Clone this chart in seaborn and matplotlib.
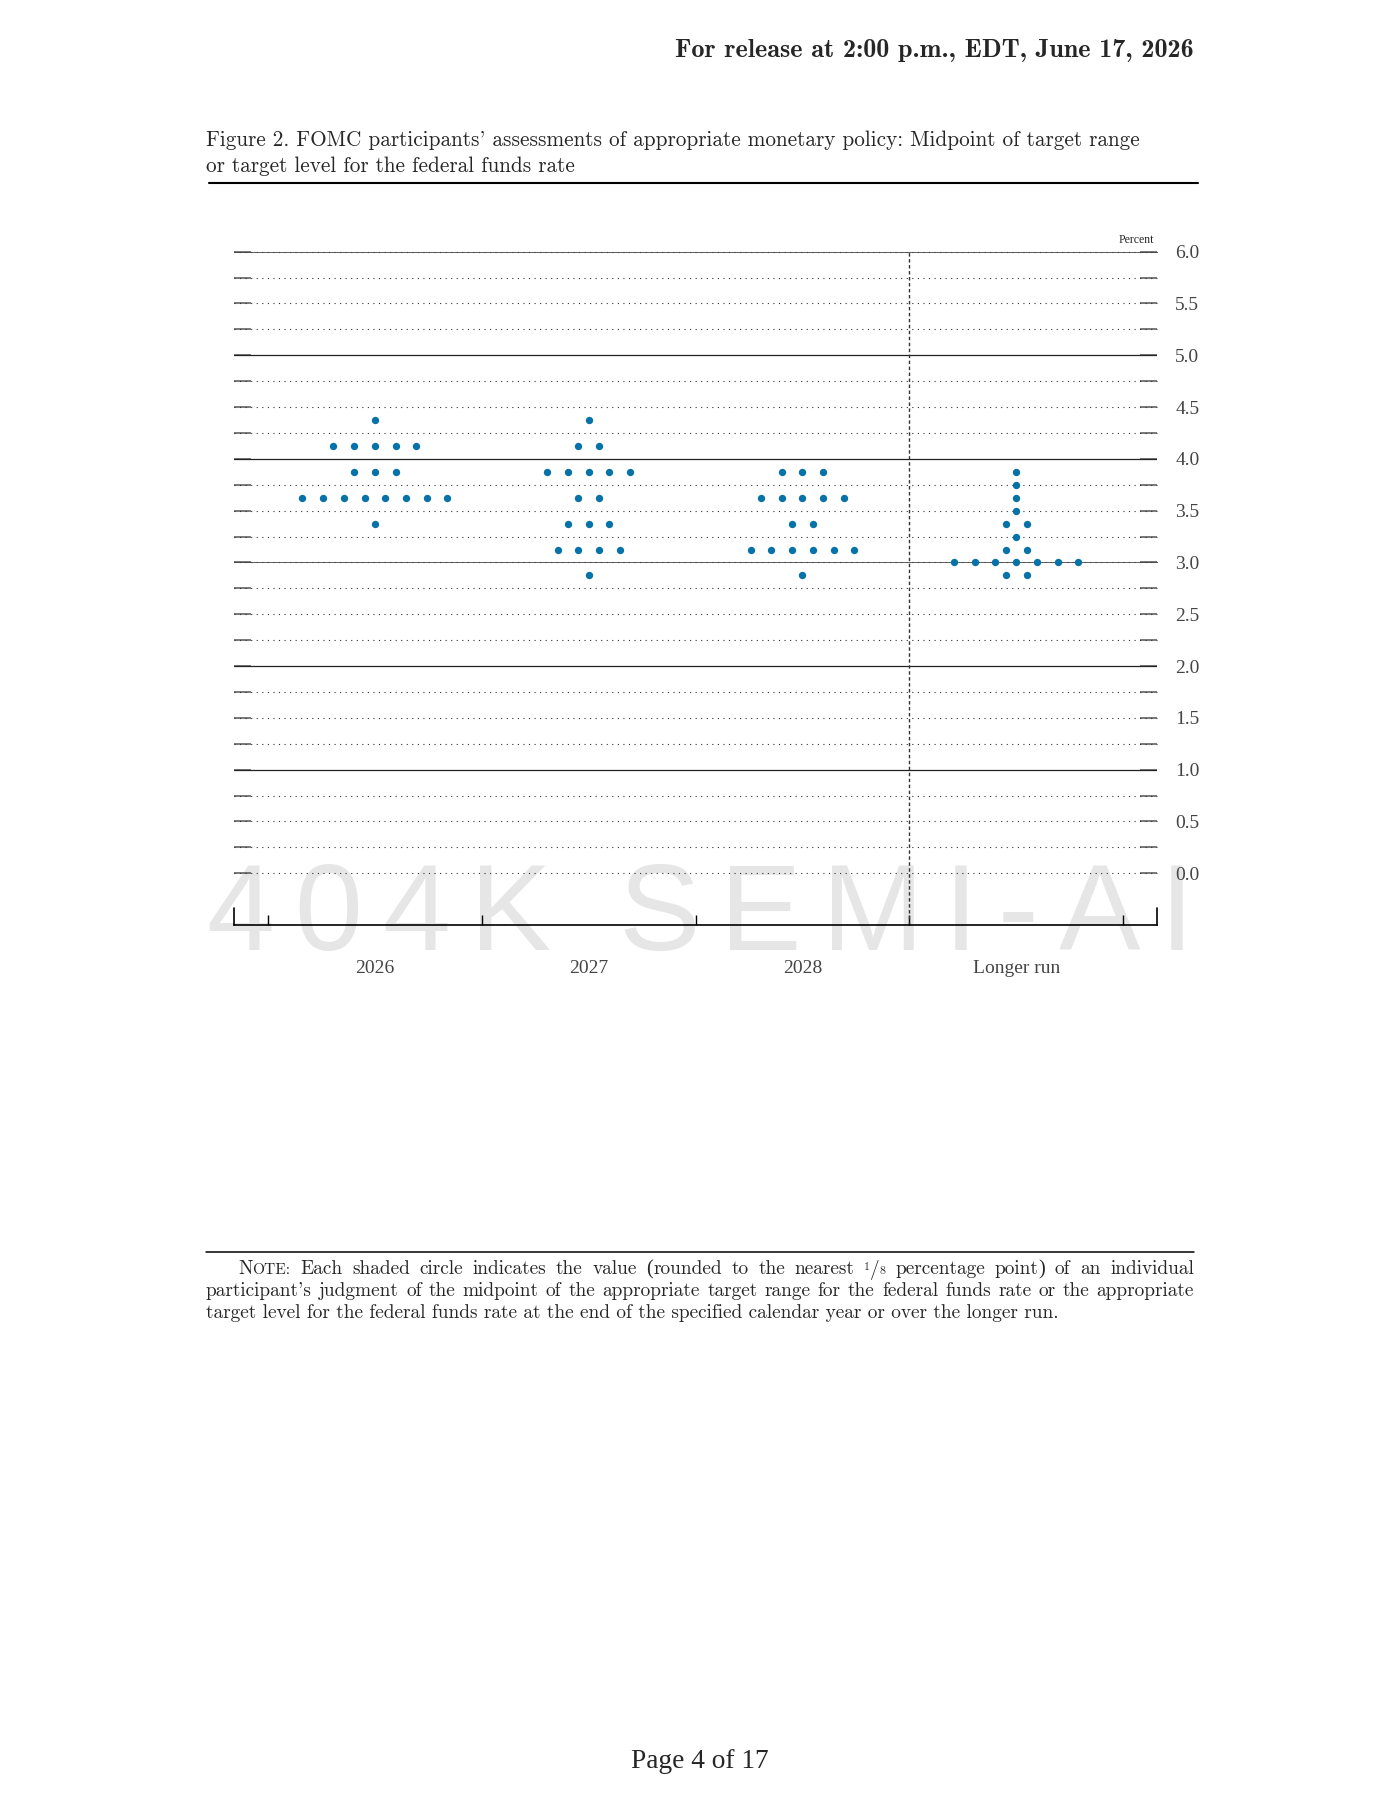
# ============================================================
# FOMC dot plot (Figure 2) — page recreation with seaborn
# ============================================================
import numpy as np
import pandas as pd
import matplotlib
matplotlib.use("Agg")
import matplotlib.pyplot as plt
import seaborn as sns

# ---- DATA ----
periods = ["2026", "2027", "2028", "Longer run"]

levels_2026 = [4.375, 4.125, 3.875, 3.625, 3.375]
counts_2026 = [1, 5, 3, 8, 1]

levels_2027 = [4.375, 4.125, 3.875, 3.625, 3.375, 3.125, 2.875]
counts_2027 = [1, 2, 5, 2, 3, 4, 1]

levels_2028 = [3.875, 3.625, 3.375, 3.125, 2.875]
counts_2028 = [3, 5, 2, 6, 1]

levels_lr = [3.875, 3.75, 3.625, 3.5, 3.375, 3.25, 3.125, 3.0, 2.875]
counts_lr = [1, 1, 1, 1, 2, 1, 2, 7, 2]

y_ticks = [0.0, 0.5, 1.0, 1.5, 2.0, 2.5, 3.0, 3.5, 4.0, 4.5, 5.0, 5.5, 6.0]
y_tick_labels = ["0.0", "0.5", "1.0", "1.5", "2.0", "2.5", "3.0",
                 "3.5", "4.0", "4.5", "5.0", "5.5", "6.0"]

header = "For release at 2:00 p.m., EDT, June 17, 2026"
# cmr10 draws the ASCII quote as a right single quote (TeX layout)
title_lines = [
    "Figure 2. FOMC participants' assessments of appropriate monetary policy: Midpoint of target range",
    "or target level for the federal funds rate",
]
note_line1a = "Each shaded circle indicates the value"
note_line1b = "to the nearest"
note_line1c = "percentage"
note_line1d = "of an individual"
note_line2 = "participant's judgment of the midpoint of the appropriate target range for the federal funds rate or the appropriate"
note_line3 = "target level for the federal funds rate at the end of the specified calendar year or over the longer run."
footer = "Page 4 of 17"
watermark = "404K SEMI-AI"

DOT = "#0672A8"
W, H = 1400, 1812
CM = ["cmr10", "DejaVu Serif"]
TIMES = ["Liberation Serif", "DejaVu Serif"]
DOT_STEP = 0.097   # horizontal spacing of dots in one row (data units)

# ---- one row per participant, spread symmetrically around the period ----
rows = []
all_levels = [levels_2026, levels_2027, levels_2028, levels_lr]
all_counts = [counts_2026, counts_2027, counts_2028, counts_lr]
for i, (levels, counts) in enumerate(zip(all_levels, all_counts)):
    for level, n in zip(levels, counts):
        for k in range(n):
            rows.append((periods[i], i + (k - (n - 1) / 2) * DOT_STEP, level))
dots = pd.DataFrame(rows, columns=["period", "x", "rate"])

sns.set_style("white")
plt.rcParams["font.family"] = TIMES

fig = plt.figure(figsize=(W / 100, H / 100), dpi=100)
renderer = fig.canvas.get_renderer()


def put(x, y, s, size, **kw):
    kw.setdefault("va", "baseline")
    return fig.text(x / W, 1 - y / H, s, fontsize=size, **kw)


def width_px(t):
    return t.get_window_extent(renderer).width


def fit(t, target):
    t.set_fontsize(t.get_fontsize() * target / width_px(t))
    return t.get_fontsize()


def hline(x0, x1, y, lw):
    fig.add_artist(plt.Line2D([x0 / W, x1 / W], [1 - y / H, 1 - y / H],
                              transform=fig.transFigure, color="black", lw=lw))


# ---- AXES ----
ax = fig.add_axes([233.8 / W, 1 - 925 / H, 923.5 / W, 673.3 / H])
ax.set_facecolor("none")
ax.set_xlim(-0.66, 3.66)
ax.set_ylim(-0.5, 6.0)

for v in np.arange(0, 6.01, 0.25):
    if v in (1.0, 2.0, 4.0, 5.0):
        ax.axhline(v, color="#222222", lw=0.9, zorder=1)
    else:
        ax.axhline(v, color="#333333", lw=0.8, ls=(0, (1, 4)), zorder=1, clip_on=False)
        if v in (3.0, 6.0):
            ax.axhline(v, color="#444444", lw=0.6, zorder=1, clip_on=False)

ax.axvline(2.5, color="#333333", lw=1.0, ls=(0, (2.5, 1.8)), zorder=2)

sns.scatterplot(data=dots, x="x", y="rate", color=DOT, s=28, linewidth=0,
                ax=ax, legend=False, zorder=5, clip_on=False)
ax.set_xlabel("")
ax.set_ylabel("")

ax.set_yticks(y_ticks)
ax.set_yticklabels(y_tick_labels)
ax.set_yticks(np.arange(0.25, 6, 0.5), minor=True)
ax.tick_params(axis="y", which="both", direction="in", left=True, right=True,
               labelleft=False, labelright=True, length=12, width=1.1,
               color="#555555", pad=13, labelsize=14, labelcolor="#444444")

ax.set_xticks(range(len(periods)))
ax.set_xticklabels(periods)
ax.set_xticks([-0.5, 0.5, 1.5, 2.5, 3.5], minor=True)
ax.tick_params(axis="x", which="major", bottom=True, length=0, pad=25,
               labelsize=14, labelcolor="#444444")
ax.tick_params(axis="x", which="minor", bottom=True, direction="in",
               length=7, width=1.0, color="black")

for s in ["left", "right", "top"]:
    ax.spines[s].set_visible(False)
ax.spines["bottom"].set_color("black")
ax.spines["bottom"].set_linewidth(1.2)
for xe in ax.get_xlim():
    ax.axvline(xe, 0, 17 / 673.3, color="black", lw=1.2, clip_on=False)

put(1154, 243, "Percent", 8.5, ha="right")

# ---- WATERMARK (behind the axes) ----
wm_size = 88
chars = [put(0, 950, c, wm_size, color="#e6e6e6", zorder=-1,
             family=["Liberation Sans", "DejaVu Sans"]) for c in watermark]
widths = [width_px(t) if c != " " else wm_size * 0.3 for t, c in zip(chars, watermark)]
track = (988 - sum(widths)) / (len(watermark) - 1)
x = 206
for t, w in zip(chars, widths):
    t.set_x(x / W)
    x += w + track

# ---- HEADER + TITLE ----
t = put(1194, 57, header, 14, ha="right", family=["cmb10", "DejaVu Serif"])
fit(t, 517)

t1 = put(206, 146.5, title_lines[0], 14, family=CM)
tsize = fit(t1, 930)
put(206, 171.5, title_lines[1], tsize, family=CM)
hline(209, 1198, 183, 1.5)

# ---- NOTE ----
hline(206, 1194, 1252, 1.1)
t3 = put(206, 1318.5, note_line3, 12, family=CM)
nsize = fit(t3, 855)


def justified(words, x0, x1, y, size):
    items = []
    for w in words:
        pieces = [(w, 1.0, CM, 0)] if isinstance(w, str) else w
        ts = [put(0, y - dy, s, size * k, family=fam) for s, k, fam, dy in pieces]
        items.append((ts, [width_px(tt) for tt in ts]))
    total = sum(sum(ws) for _, ws in items)
    gap = (x1 - x0 - total) / (len(items) - 1)
    xx = x0
    for ts, ws in items:
        for tt, w in zip(ts, ws):
            tt.set_x(xx / W)
            xx += w
        xx += gap


# parentheses come from a Times face: cmr10 ones sit off the baseline here
small_caps = [("N", 1.0, CM, 0), ("OTE:", 0.8, CM, 0)]
rounded = [("(", 1.05, TIMES, 0), ("rounded", 1.0, CM, 0)]
eighth = [("1", 0.62, CM, 5), ("/", 1.0, CM, 0), ("8", 0.62, CM, 0)]
point = [("point", 1.0, CM, 0), (")", 1.05, TIMES, 0)]
line1 = ([small_caps] + note_line1a.split(" ") + [rounded] + note_line1b.split(" ")
         + [eighth, note_line1c, point] + note_line1d.split(" "))
justified(line1, 238, 1194, 1274.5, nsize)
justified(note_line2.split(" "), 206, 1194, 1296.5, nsize)

# ---- FOOTER ----
t = put(700, 1768, footer, 18, ha="center")
fit(t, 138)

fig.savefig("out.png", dpi=100)
plt.close(fig)
print(" saved out.png")
